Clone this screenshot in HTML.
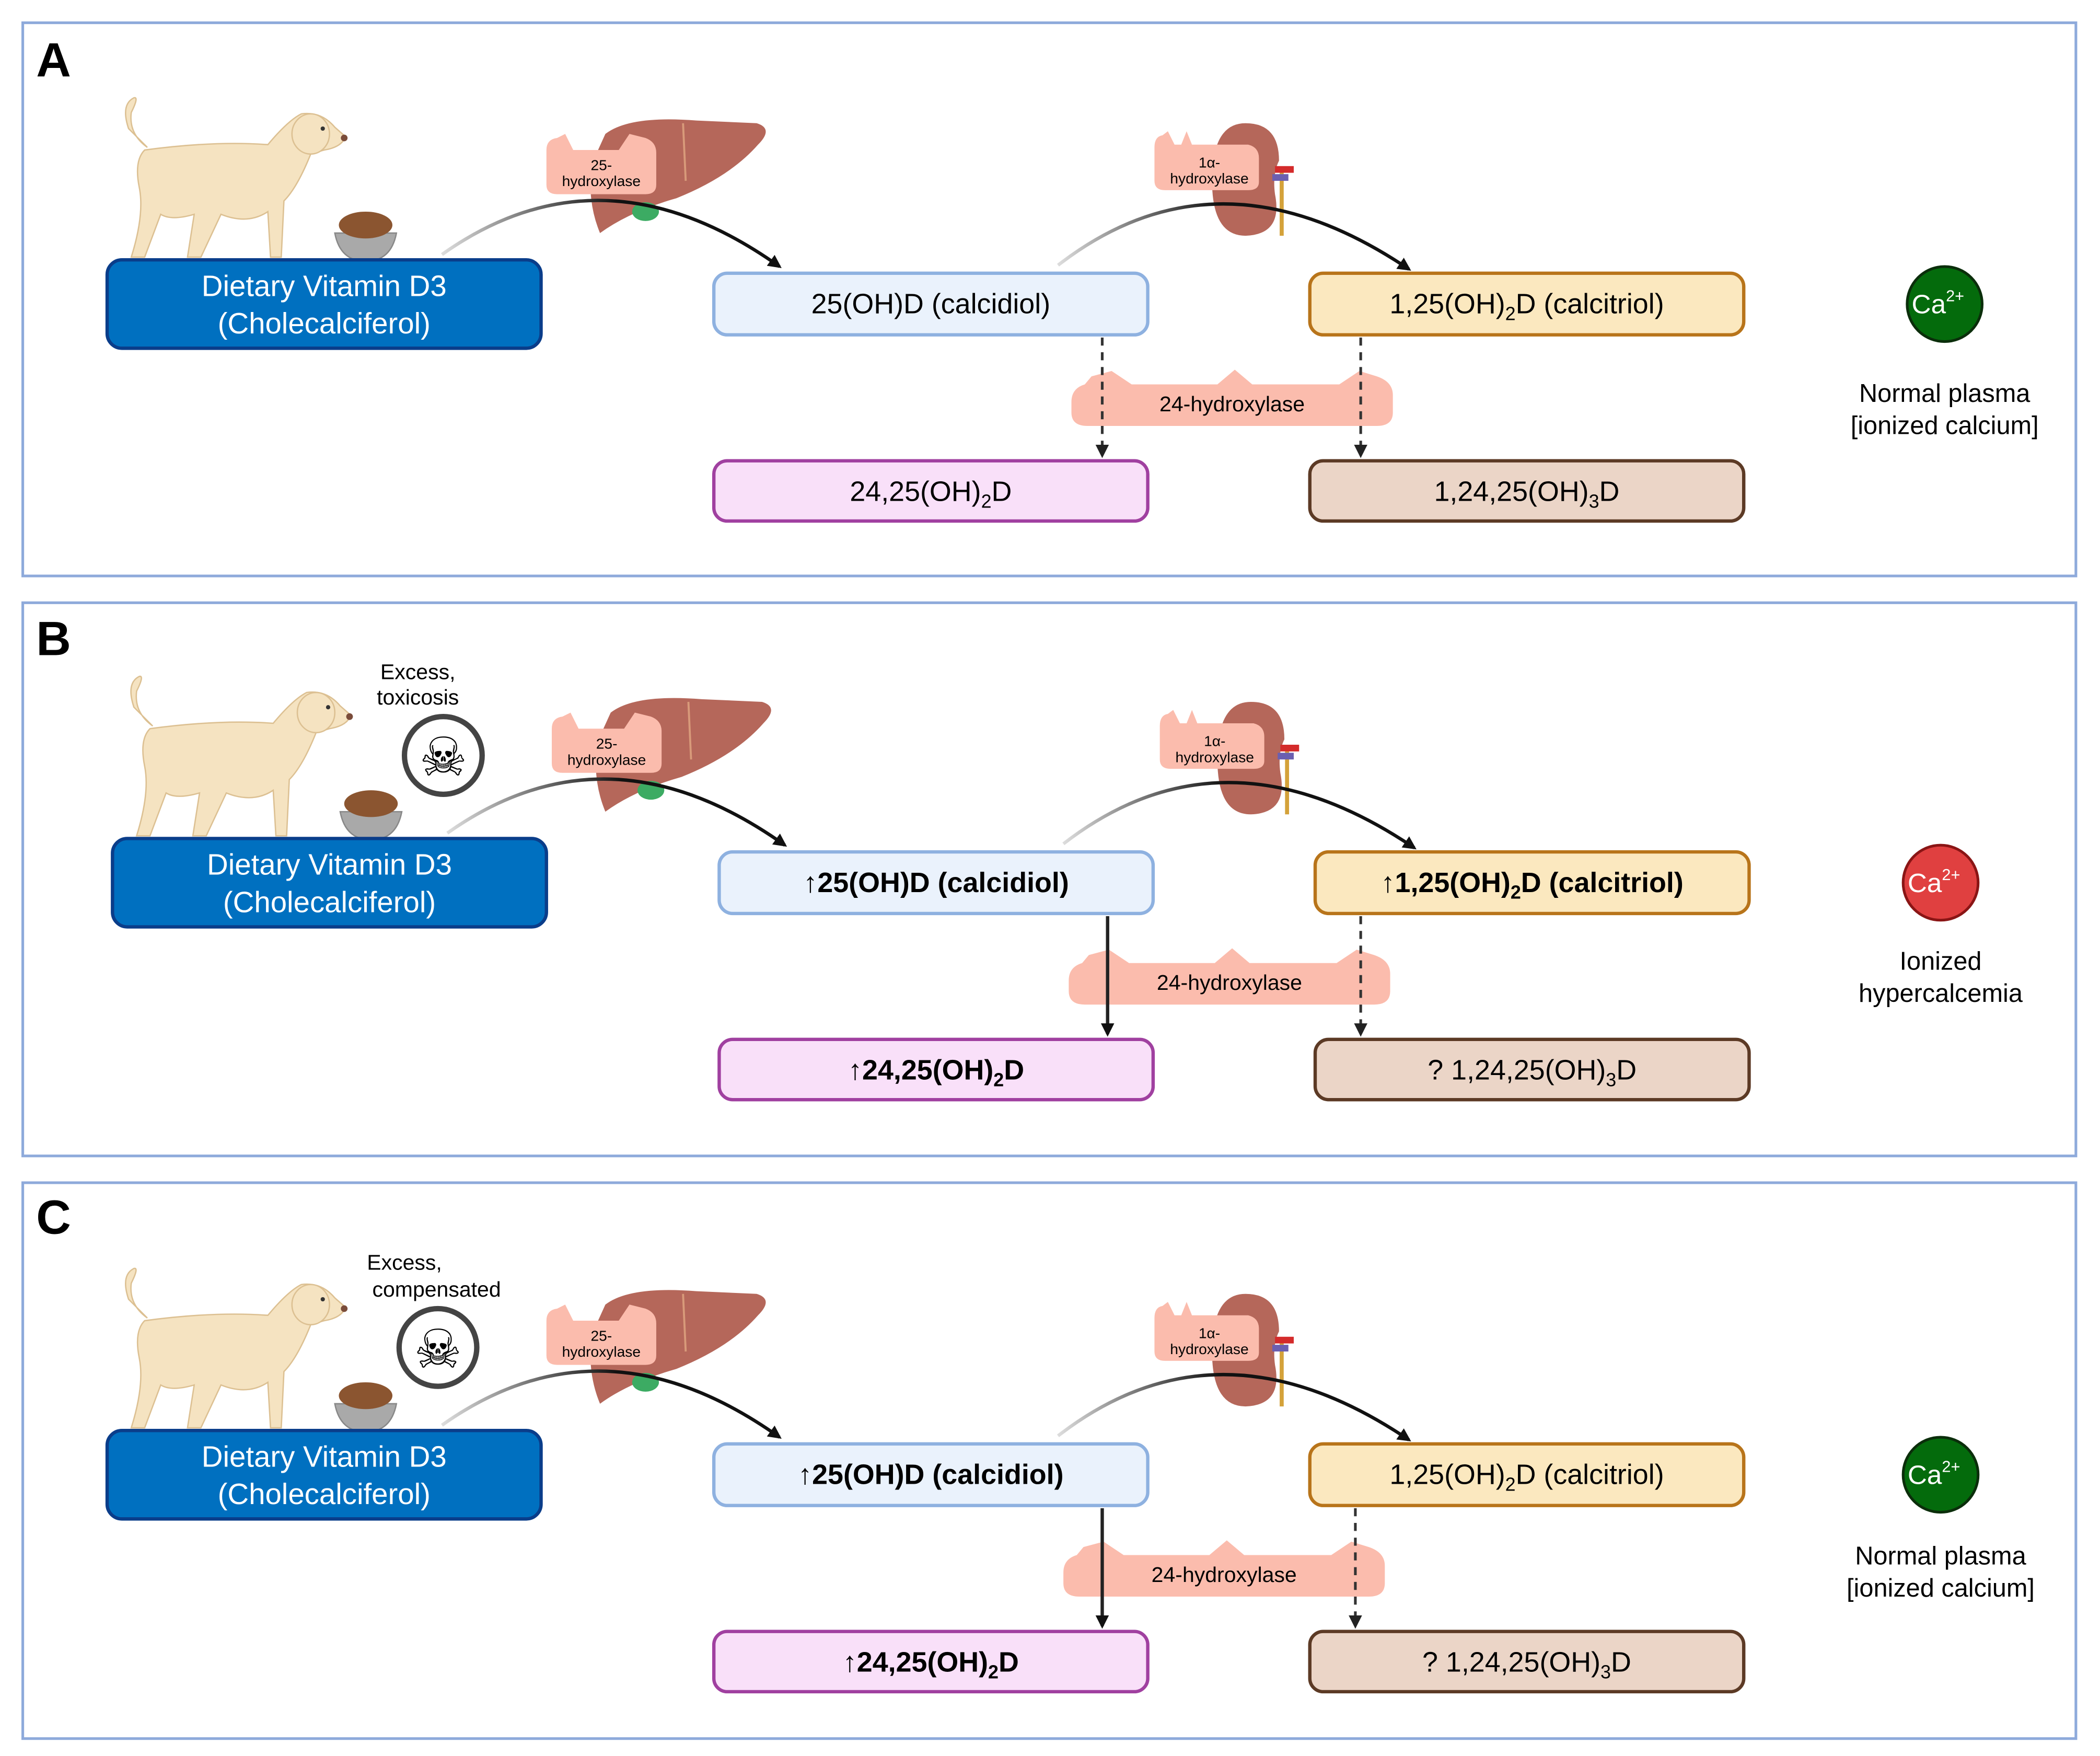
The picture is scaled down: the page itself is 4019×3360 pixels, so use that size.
<!DOCTYPE html>
<html><head><meta charset="utf-8"><style>
html,body{margin:0;padding:0;background:#fff;}
svg{display:block;}
text{font-family:"Liberation Sans",sans-serif;}
</style></head><body>
<svg width="4019" height="3360" viewBox="0 0 1568 1311" preserveAspectRatio="none" xmlns="http://www.w3.org/2000/svg">
<defs>
<marker id="ah" markerWidth="10" markerHeight="10" refX="8" refY="5" orient="auto" markerUnits="userSpaceOnUse"><path d="M0,0 L10,5 L0,10 Z" fill="#111"/></marker>
<marker id="ah2" markerWidth="10" markerHeight="10" refX="8" refY="5" orient="auto" markerUnits="userSpaceOnUse"><path d="M0,0 L10,5 L0,10 Z" fill="#222"/></marker>
<linearGradient id="g1" gradientUnits="userSpaceOnUse" x1="330" y1="0" x2="460" y2="0"><stop offset="0" stop-color="#ddd"/><stop offset="1" stop-color="#111"/></linearGradient>
<linearGradient id="g2" gradientUnits="userSpaceOnUse" x1="790" y1="0" x2="910" y2="0"><stop offset="0" stop-color="#ddd"/><stop offset="1" stop-color="#111"/></linearGradient>
</defs>
<rect width="1568" height="1311" fill="#fff"/>
<rect x="17" y="17" width="1533" height="413" fill="none" stroke="#8eaadb" stroke-width="2"/>
<rect x="17" y="450" width="1533" height="413" fill="none" stroke="#8eaadb" stroke-width="2"/>
<rect x="17" y="883" width="1533" height="415" fill="none" stroke="#8eaadb" stroke-width="2"/>

<!-- ===== PANEL A ===== -->
<g>
<text x="27" y="57" font-size="36" font-weight="bold">A</text>
<!-- dog -->
<g fill="#f5e3c1" stroke="#dcc092" stroke-width="1">
<path d="M96,96 Q90,78 100,73 Q104,72 98,84 Q96,100 110,110 Z"/>
<path d="M108,112 Q160,105 200,108 Q215,90 225,85 Q240,83 250,95 L258,102 Q255,110 242,112 L232,115 Q222,140 212,150 L210,192 L202,192 L200,158 Q185,168 165,160 L150,192 L140,192 L145,160 Q128,165 120,160 L108,192 L98,192 Q108,160 104,140 Q100,120 108,112 Z"/>
<ellipse cx="232" cy="100" rx="14" ry="15"/>
</g>
<circle cx="241" cy="96" r="1.6" fill="#333"/>
<circle cx="257" cy="103" r="2.5" fill="#7a4c3a"/>
<!-- bowl -->
<path d="M250,174 L296,174 Q292,195 273,195 Q254,195 250,174 Z" fill="#a9a9a9" stroke="#888"/>
<ellipse cx="273" cy="168" rx="20" ry="10" fill="#8b5530"/>
<!-- liver -->
<path d="M452,100 Q470,86 520,90 L565,92 Q578,96 566,108 Q545,132 505,148 Q470,158 448,174 Q438,150 442,122 Z" fill="#b5675a"/>
<path d="M510,92 L512,135" stroke="#d89a7a" stroke-width="1.5" fill="none"/>
<ellipse cx="482" cy="158" rx="10" ry="7" fill="#3cab63"/>
<path d="M408,112 Q408,104 416,103 L422,100 L428,112 L462,112 L470,100 L482,103 Q490,106 490,114 L490,138 Q490,145 482,145 L416,145 Q408,145 408,138 Z" fill="#fbbcad"/>
<text x="449" y="127" font-size="11" text-anchor="middle">25-</text>
<text x="449" y="139" font-size="11" text-anchor="middle">hydroxylase</text>
<!-- kidney -->
<path d="M930,92 Q955,92 955,120 Q950,130 952,145 Q958,175 930,176 Q905,176 905,135 Q905,92 930,92 Z" fill="#b5675a"/>
<path d="M957,125 L957,176" stroke="#d4a23a" stroke-width="3"/>
<rect x="952" y="124" width="14" height="5" fill="#d42b2b"/>
<rect x="950" y="130" width="12" height="5" fill="#6b5fb0"/>
<path d="M862,110 Q862,102 868,101 L872,98 L877,108 L882,108 L886,98 L890,108 L932,108 Q940,110 940,118 L940,136 Q940,142 932,142 L870,142 Q862,142 862,135 Z" fill="#fbbcad"/>
<text x="903" y="125" font-size="11" text-anchor="middle">1α-</text>
<text x="903" y="137" font-size="11" text-anchor="middle">hydroxylase</text>
<!-- arrows -->
<path d="M330,190 Q450,105 582,199" fill="none" stroke="url(#g1)" stroke-width="2.5" marker-end="url(#ah)"/>
<path d="M790,198 Q910,105 1052,201" fill="none" stroke="url(#g2)" stroke-width="2.5" marker-end="url(#ah)"/>
<!-- boxes -->
<rect x="80" y="194" width="324" height="66" rx="11" fill="#0070c0" stroke="#0a3d8a" stroke-width="2.5"/>
<text x="242" y="221" font-size="22" fill="#fff" text-anchor="middle">Dietary Vitamin D3</text>
<text x="242" y="249" font-size="22" fill="#fff" text-anchor="middle">(Cholecalciferol)</text>
<rect x="533" y="204" width="324" height="46" rx="10" fill="#eaf2fc" stroke="#8eb1e0" stroke-width="2.5"/>
<text x="695" y="234" font-size="21" text-anchor="middle">25(OH)D (calcidiol)</text>
<rect x="978" y="204" width="324" height="46" rx="10" fill="#fbe8bf" stroke="#b8741a" stroke-width="2.5"/>
<text x="1140" y="234" font-size="21" text-anchor="middle">1,25(OH)<tspan font-size="14" dy="5">2</tspan><tspan dy="-5">D (calcitriol)</tspan></text>
<!-- 24-hydroxylase -->
<path d="M810,287 Q800,290 800,300 L800,308 Q800,318 812,318 L1028,318 Q1040,318 1040,308 L1040,295 Q1040,285 1028,281 L1015,277 L1000,287 L935,287 L922,276 L909,287 L845,287 L830,277 L815,281 Z" fill="#fbbcad"/>
<text x="920" y="307" font-size="16" text-anchor="middle">24-hydroxylase</text>
<path d="M823,252 L823,340" stroke="#333" stroke-width="2" stroke-dasharray="6,5" marker-end="url(#ah2)"/>
<path d="M1016,252 L1016,340" stroke="#333" stroke-width="2" stroke-dasharray="6,5" marker-end="url(#ah2)"/>
<rect x="533" y="344" width="324" height="45" rx="10" fill="#f9e0f9" stroke="#a040a0" stroke-width="2.5"/>
<text x="695" y="374" font-size="21" text-anchor="middle">24,25(OH)<tspan font-size="14" dy="5">2</tspan><tspan dy="-5">D</tspan></text>
<rect x="978" y="344" width="324" height="45" rx="10" fill="#ebd5c7" stroke="#5c3a25" stroke-width="2.5"/>
<text x="1140" y="374" font-size="21" text-anchor="middle">1,24,25(OH)<tspan font-size="14" dy="5">3</tspan><tspan dy="-5">D</tspan></text>
<!-- Ca -->
<circle cx="1452" cy="227" r="28" fill="#046b0c" stroke="#0b2e0b" stroke-width="2"/>
<text x="1447" y="234" font-size="20" fill="#fff" text-anchor="middle">Ca<tspan font-size="12" dy="-9">2+</tspan></text>
<text x="1452" y="300" font-size="19" text-anchor="middle">Normal plasma</text>
<text x="1452" y="324" font-size="19" text-anchor="middle">[ionized calcium]</text>
</g>

<!-- ===== PANEL B ===== -->
<g transform="translate(4,432)">
<text x="23" y="57" font-size="36" font-weight="bold">B</text>
<g fill="#f5e3c1" stroke="#dcc092" stroke-width="1">
<path d="M96,96 Q90,78 100,73 Q104,72 98,84 Q96,100 110,110 Z"/>
<path d="M108,112 Q160,105 200,108 Q215,90 225,85 Q240,83 250,95 L258,102 Q255,110 242,112 L232,115 Q222,140 212,150 L210,192 L202,192 L200,158 Q185,168 165,160 L150,192 L140,192 L145,160 Q128,165 120,160 L108,192 L98,192 Q108,160 104,140 Q100,120 108,112 Z"/>
<ellipse cx="232" cy="100" rx="14" ry="15"/>
</g>
<circle cx="241" cy="96" r="1.6" fill="#333"/>
<circle cx="257" cy="103" r="2.5" fill="#7a4c3a"/>
<path d="M250,174 L296,174 Q292,195 273,195 Q254,195 250,174 Z" fill="#a9a9a9" stroke="#888"/>
<ellipse cx="273" cy="168" rx="20" ry="10" fill="#8b5530"/>
<text x="308" y="75" font-size="16" text-anchor="middle">Excess,</text>
<text x="308" y="94" font-size="16" text-anchor="middle">toxicosis</text>
<circle cx="327" cy="132" r="29" fill="#fff" stroke="#444" stroke-width="4"/>
<text x="327" y="147" font-size="40" text-anchor="middle" font-family="DejaVu Sans">☠</text>
<path d="M452,100 Q470,86 520,90 L565,92 Q578,96 566,108 Q545,132 505,148 Q470,158 448,174 Q438,150 442,122 Z" fill="#b5675a"/>
<path d="M510,92 L512,135" stroke="#d89a7a" stroke-width="1.5" fill="none"/>
<ellipse cx="482" cy="158" rx="10" ry="7" fill="#3cab63"/>
<path d="M408,112 Q408,104 416,103 L422,100 L428,112 L462,112 L470,100 L482,103 Q490,106 490,114 L490,138 Q490,145 482,145 L416,145 Q408,145 408,138 Z" fill="#fbbcad"/>
<text x="449" y="127" font-size="11" text-anchor="middle">25-</text>
<text x="449" y="139" font-size="11" text-anchor="middle">hydroxylase</text>
<path d="M930,92 Q955,92 955,120 Q950,130 952,145 Q958,175 930,176 Q905,176 905,135 Q905,92 930,92 Z" fill="#b5675a"/>
<path d="M957,125 L957,176" stroke="#d4a23a" stroke-width="3"/>
<rect x="952" y="124" width="14" height="5" fill="#d42b2b"/>
<rect x="950" y="130" width="12" height="5" fill="#6b5fb0"/>
<path d="M862,110 Q862,102 868,101 L872,98 L877,108 L882,108 L886,98 L890,108 L932,108 Q940,110 940,118 L940,136 Q940,142 932,142 L870,142 Q862,142 862,135 Z" fill="#fbbcad"/>
<text x="903" y="125" font-size="11" text-anchor="middle">1α-</text>
<text x="903" y="137" font-size="11" text-anchor="middle">hydroxylase</text>
<path d="M330,190 Q450,105 582,199" fill="none" stroke="url(#g1)" stroke-width="2.5" marker-end="url(#ah)"/>
<path d="M790,198 Q910,105 1052,201" fill="none" stroke="url(#g2)" stroke-width="2.5" marker-end="url(#ah)"/>
<rect x="80" y="194" width="324" height="66" rx="11" fill="#0070c0" stroke="#0a3d8a" stroke-width="2.5"/>
<text x="242" y="221" font-size="22" fill="#fff" text-anchor="middle">Dietary Vitamin D3</text>
<text x="242" y="249" font-size="22" fill="#fff" text-anchor="middle">(Cholecalciferol)</text>
<rect x="533" y="204" width="324" height="46" rx="10" fill="#eaf2fc" stroke="#8eb1e0" stroke-width="2.5"/>
<text x="695" y="234" font-size="21" font-weight="bold" text-anchor="middle">↑25(OH)D (calcidiol)</text>
<rect x="978" y="204" width="324" height="46" rx="10" fill="#fbe8bf" stroke="#b8741a" stroke-width="2.5"/>
<text x="1140" y="234" font-size="21" font-weight="bold" text-anchor="middle">↑1,25(OH)<tspan font-size="14" dy="5">2</tspan><tspan dy="-5">D (calcitriol)</tspan></text>
<path d="M810,287 Q800,290 800,300 L800,308 Q800,318 812,318 L1028,318 Q1040,318 1040,308 L1040,295 Q1040,285 1028,281 L1015,277 L1000,287 L935,287 L922,276 L909,287 L845,287 L830,277 L815,281 Z" fill="#fbbcad" transform="translate(-6,0)"/>
<text x="914" y="307" font-size="16" text-anchor="middle">24-hydroxylase</text>
<path d="M823,252 L823,340" stroke="#222" stroke-width="2.5" marker-end="url(#ah)"/>
<path d="M1012,252 L1012,340" stroke="#333" stroke-width="2" stroke-dasharray="6,5" marker-end="url(#ah2)"/>
<rect x="533" y="344" width="324" height="45" rx="10" fill="#f9e0f9" stroke="#a040a0" stroke-width="2.5"/>
<text x="695" y="374" font-size="21" font-weight="bold" text-anchor="middle">↑24,25(OH)<tspan font-size="14" dy="5">2</tspan><tspan dy="-5">D</tspan></text>
<rect x="978" y="344" width="324" height="45" rx="10" fill="#ebd5c7" stroke="#5c3a25" stroke-width="2.5"/>
<text x="1140" y="374" font-size="21" text-anchor="middle">? 1,24,25(OH)<tspan font-size="14" dy="5">3</tspan><tspan dy="-5">D</tspan></text>
<circle cx="1445" cy="227" r="28" fill="#e04040" stroke="#8a1515" stroke-width="2"/>
<text x="1440" y="234" font-size="20" fill="#fff" text-anchor="middle">Ca<tspan font-size="12" dy="-9">2+</tspan></text>
<text x="1445" y="292" font-size="19" text-anchor="middle">Ionized</text>
<text x="1445" y="316" font-size="19" text-anchor="middle">hypercalcemia</text>
</g>

<!-- ===== PANEL C ===== -->
<g transform="translate(0,874)">
<text x="27" y="47" font-size="36" font-weight="bold">C</text>
<g fill="#f5e3c1" stroke="#dcc092" stroke-width="1">
<path d="M96,96 Q90,78 100,73 Q104,72 98,84 Q96,100 110,110 Z"/>
<path d="M108,112 Q160,105 200,108 Q215,90 225,85 Q240,83 250,95 L258,102 Q255,110 242,112 L232,115 Q222,140 212,150 L210,192 L202,192 L200,158 Q185,168 165,160 L150,192 L140,192 L145,160 Q128,165 120,160 L108,192 L98,192 Q108,160 104,140 Q100,120 108,112 Z"/>
<ellipse cx="232" cy="100" rx="14" ry="15"/>
</g>
<circle cx="241" cy="96" r="1.6" fill="#333"/>
<circle cx="257" cy="103" r="2.5" fill="#7a4c3a"/>
<path d="M250,174 L296,174 Q292,195 273,195 Q254,195 250,174 Z" fill="#a9a9a9" stroke="#888"/>
<ellipse cx="273" cy="168" rx="20" ry="10" fill="#8b5530"/>
<text x="302" y="74" font-size="16" text-anchor="middle">Excess,</text>
<text x="326" y="94" font-size="16" text-anchor="middle">compensated</text>
<circle cx="327" cy="132" r="29" fill="#fff" stroke="#444" stroke-width="4"/>
<text x="327" y="147" font-size="40" text-anchor="middle" font-family="DejaVu Sans">☠</text>
<path d="M452,100 Q470,86 520,90 L565,92 Q578,96 566,108 Q545,132 505,148 Q470,158 448,174 Q438,150 442,122 Z" fill="#b5675a"/>
<path d="M510,92 L512,135" stroke="#d89a7a" stroke-width="1.5" fill="none"/>
<ellipse cx="482" cy="158" rx="10" ry="7" fill="#3cab63"/>
<path d="M408,112 Q408,104 416,103 L422,100 L428,112 L462,112 L470,100 L482,103 Q490,106 490,114 L490,138 Q490,145 482,145 L416,145 Q408,145 408,138 Z" fill="#fbbcad"/>
<text x="449" y="127" font-size="11" text-anchor="middle">25-</text>
<text x="449" y="139" font-size="11" text-anchor="middle">hydroxylase</text>
<path d="M930,92 Q955,92 955,120 Q950,130 952,145 Q958,175 930,176 Q905,176 905,135 Q905,92 930,92 Z" fill="#b5675a"/>
<path d="M957,125 L957,176" stroke="#d4a23a" stroke-width="3"/>
<rect x="952" y="124" width="14" height="5" fill="#d42b2b"/>
<rect x="950" y="130" width="12" height="5" fill="#6b5fb0"/>
<path d="M862,110 Q862,102 868,101 L872,98 L877,108 L882,108 L886,98 L890,108 L932,108 Q940,110 940,118 L940,136 Q940,142 932,142 L870,142 Q862,142 862,135 Z" fill="#fbbcad"/>
<text x="903" y="125" font-size="11" text-anchor="middle">1α-</text>
<text x="903" y="137" font-size="11" text-anchor="middle">hydroxylase</text>
<path d="M330,190 Q450,105 582,199" fill="none" stroke="url(#g1)" stroke-width="2.5" marker-end="url(#ah)"/>
<path d="M790,198 Q910,105 1052,201" fill="none" stroke="url(#g2)" stroke-width="2.5" marker-end="url(#ah)"/>
<rect x="80" y="194" width="324" height="66" rx="11" fill="#0070c0" stroke="#0a3d8a" stroke-width="2.5"/>
<text x="242" y="221" font-size="22" fill="#fff" text-anchor="middle">Dietary Vitamin D3</text>
<text x="242" y="249" font-size="22" fill="#fff" text-anchor="middle">(Cholecalciferol)</text>
<rect x="533" y="204" width="324" height="46" rx="10" fill="#eaf2fc" stroke="#8eb1e0" stroke-width="2.5"/>
<text x="695" y="234" font-size="21" font-weight="bold" text-anchor="middle">↑25(OH)D (calcidiol)</text>
<rect x="978" y="204" width="324" height="46" rx="10" fill="#fbe8bf" stroke="#b8741a" stroke-width="2.5"/>
<text x="1140" y="234" font-size="21" text-anchor="middle">1,25(OH)<tspan font-size="14" dy="5">2</tspan><tspan dy="-5">D (calcitriol)</tspan></text>
<path d="M810,287 Q800,290 800,300 L800,308 Q800,318 812,318 L1028,318 Q1040,318 1040,308 L1040,295 Q1040,285 1028,281 L1015,277 L1000,287 L935,287 L922,276 L909,287 L845,287 L830,277 L815,281 Z" fill="#fbbcad" transform="translate(-6,0)"/>
<text x="914" y="307" font-size="16" text-anchor="middle">24-hydroxylase</text>
<path d="M823,252 L823,340" stroke="#222" stroke-width="2.5" marker-end="url(#ah)"/>
<path d="M1012,252 L1012,340" stroke="#333" stroke-width="2" stroke-dasharray="6,5" marker-end="url(#ah2)"/>
<rect x="533" y="344" width="324" height="45" rx="10" fill="#f9e0f9" stroke="#a040a0" stroke-width="2.5"/>
<text x="695" y="374" font-size="21" font-weight="bold" text-anchor="middle">↑24,25(OH)<tspan font-size="14" dy="5">2</tspan><tspan dy="-5">D</tspan></text>
<rect x="978" y="344" width="324" height="45" rx="10" fill="#ebd5c7" stroke="#5c3a25" stroke-width="2.5"/>
<text x="1140" y="374" font-size="21" text-anchor="middle">? 1,24,25(OH)<tspan font-size="14" dy="5">3</tspan><tspan dy="-5">D</tspan></text>
<circle cx="1449" cy="227" r="28" fill="#046b0c" stroke="#0b2e0b" stroke-width="2"/>
<text x="1444" y="234" font-size="20" fill="#fff" text-anchor="middle">Ca<tspan font-size="12" dy="-9">2+</tspan></text>
<text x="1449" y="294" font-size="19" text-anchor="middle">Normal plasma</text>
<text x="1449" y="318" font-size="19" text-anchor="middle">[ionized calcium]</text>
</g>
</svg>
</body></html>
